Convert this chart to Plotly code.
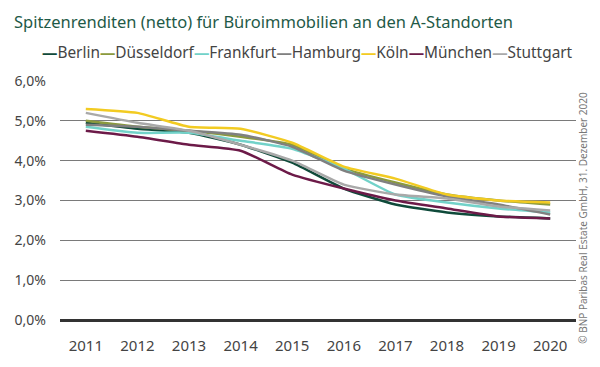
import plotly.graph_objects as go

years = [2011, 2012, 2013, 2014, 2015, 2016, 2017, 2018, 2019, 2020]
berlin     = [4.95, 4.80, 4.70, 4.40, 3.95, 3.30, 2.90, 2.70, 2.60, 2.55]
duesseldorf= [5.00, 4.85, 4.75, 4.60, 4.40, 3.80, 3.45, 3.15, 3.00, 2.90]
frankfurt  = [4.85, 4.70, 4.70, 4.50, 4.30, 3.80, 3.15, 2.95, 2.80, 2.70]
hamburg    = [4.90, 4.85, 4.75, 4.65, 4.35, 3.75, 3.40, 3.10, 2.90, 2.65]
koeln      = [5.30, 5.20, 4.85, 4.80, 4.45, 3.85, 3.55, 3.15, 3.00, 2.95]
muenchen   = [4.75, 4.60, 4.40, 4.25, 3.65, 3.30, 3.00, 2.80, 2.60, 2.55]
stuttgart  = [5.20, 4.95, 4.75, 4.40, 4.00, 3.40, 3.15, 3.05, 2.85, 2.75]

names  = ["Berlin", "Düsseldorf", "Frankfurt", "Hamburg", "Köln", "München", "Stuttgart"]
series = [berlin, duesseldorf, frankfurt, hamburg, koeln, muenchen, stuttgart]
colors = ["#0f4a3a", "#8b9a3e", "#72d2c9", "#808080", "#f2cb22", "#6c1a48", "#a9a9a9"]

ytick_vals = [0, 1, 2, 3, 4, 5, 6]
ytick_text = ["0,0%", "1,0%", "2,0%", "3,0%", "4,0%", "5,0%", "6,0%"]

FONT = "Noto Sans"
fig = go.Figure()
for n, s, c in zip(names, series, colors):
    fig.add_trace(go.Scatter(x=[str(y) for y in years], y=s, name=n, mode="lines",
                             line=dict(color=c, width=2.5, shape="spline", smoothing=0.5),
                             showlegend=False))

legend_text = "".join(
    f"<span style='color:{c}'><b>—</b></span>{n}" for n, c in zip(names, colors))

fig.update_layout(
    width=600, height=367,
    margin=dict(l=60, r=24, t=81, b=43),
    paper_bgcolor="white", plot_bgcolor="white",
    font=dict(family=FONT, color="#444444", size=14),
    xaxis=dict(type="category", range=[-0.5, 9.5], showgrid=False, zeroline=False,
               showline=False, ticks="", tickfont=dict(size=15, color="#444444"),
               ticklabelstandoff=15),
    yaxis=dict(range=[0, 6], tickvals=ytick_vals, ticktext=ytick_text,
               showgrid=True, gridcolor="#7a7a7a", gridwidth=1, zeroline=True,
               zerolinecolor="#333333", zerolinewidth=2.5, showline=False,
               tickfont=dict(size=14, color="#444444"), ticklabelstandoff=13),
    annotations=[
        dict(text="Spitzenrenditen (netto) für Büroimmobilien an den A-Standorten",
             xref="paper", yref="paper", x=(12 - 60) / 516, y=1 + (81 - 20) / 243,
             xanchor="left", yanchor="middle", showarrow=False,
             font=dict(family=FONT, size=16.5, color="#1f5a47")),
        dict(text=legend_text, xref="paper", yref="paper",
             x=(40 - 60) / 516, y=1 + (81 - 52) / 243, xanchor="left", yanchor="middle",
             showarrow=False, font=dict(family=FONT, size=15.4, color="#444444")),
        dict(text="© BNP Paribas Real Estate GmbH, 31. Dezember 2020",
             xref="paper", yref="paper", x=1 + (583 - 576) / 516, y=(324 - 220) / 243,
             xanchor="center", yanchor="middle", textangle=-90, showarrow=False,
             font=dict(family=FONT, size=10, color="#777777")),
    ],
)

fig.write_html("out.html", config={"displayModeBar": False},
               post_script="document.body.style.margin='0';document.body.style.overflow='hidden';")
